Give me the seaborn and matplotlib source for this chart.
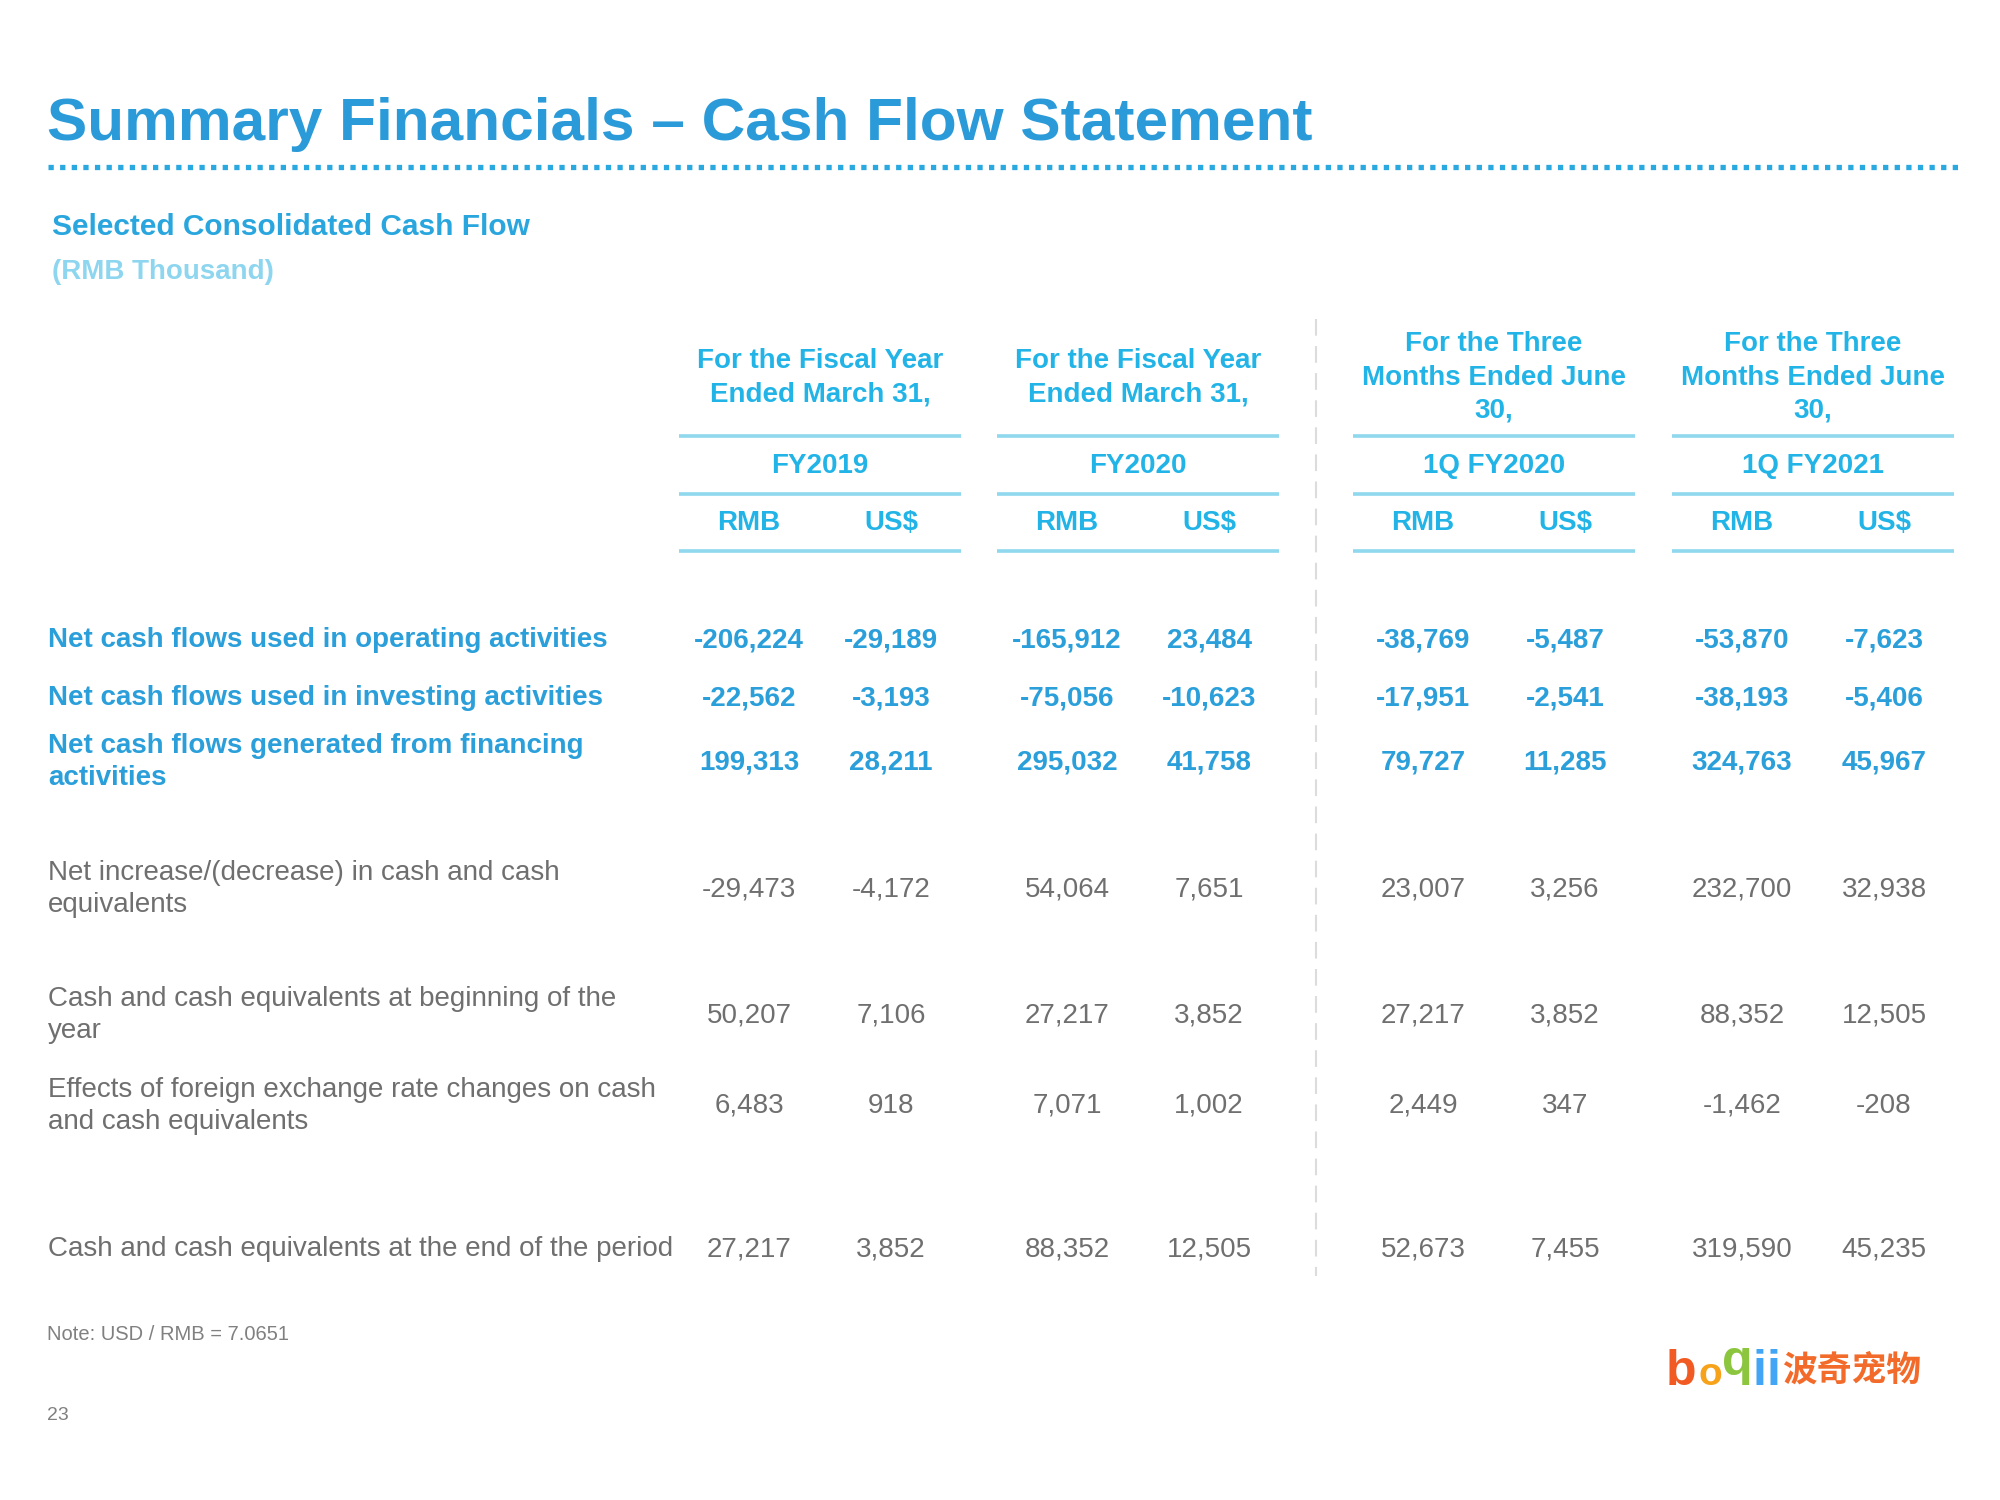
import matplotlib
matplotlib.use("Agg")
import matplotlib.pyplot as plt
import seaborn as sns

# ---------------- data ----------------
title = "Summary Financials \u2013 Cash Flow Statement"
subtitle = "Selected Consolidated Cash Flow"
unit_note = "(RMB Thousand)"
period_captions = ["For the Fiscal Year\nEnded March 31,",
                   "For the Fiscal Year\nEnded March 31,",
                   "For the Three\nMonths Ended June\n30,",
                   "For the Three\nMonths Ended June\n30,"]
periods = ["FY2019", "FY2020", "1Q FY2020", "1Q FY2021"]
currencies = ["RMB", "US$"]

row_labels = ["Net cash flows used in operating activities",
              "Net cash flows used in investing activities",
              "Net cash flows generated from financing\nactivities",
              "Net increase/(decrease) in cash and cash\nequivalents",
              "Cash and cash equivalents at beginning of the\nyear",
              "Effects of foreign exchange rate changes on cash\nand cash equivalents",
              "Cash and cash equivalents at the end of the period"]
highlight_rows = [True, True, True, False, False, False, False]

operating = [-206224, -29189, -165912, 23484, -38769, -5487, -53870, -7623]
investing = [-22562, -3193, -75056, -10623, -17951, -2541, -38193, -5406]
financing = [199313, 28211, 295032, 41758, 79727, 11285, 324763, 45967]
net_increase = [-29473, -4172, 54064, 7651, 23007, 3256, 232700, 32938]
beginning = [50207, 7106, 27217, 3852, 27217, 3852, 88352, 12505]
fx_effects = [6483, 918, 7071, 1002, 2449, 347, -1462, -208]
end_period = [27217, 3852, 88352, 12505, 52673, 7455, 319590, 45235]
table_rows = [operating, investing, financing, net_increase, beginning, fx_effects, end_period]

note_text = "Note: USD / RMB = 7.0651"
page_number = "23"
logo_letters = ["b", "o", "q", "i", "i"]
logo_name = "波奇宠物"

# ---------------- layout / style ----------------
sns.set_theme(style="white")
plt.rcParams['font.family'] = ['Liberation Sans', 'Noto Sans CJK SC', 'DejaVu Sans']

TITLE_BLUE = "#2B9AD8"
ROW_BLUE = "#2A9FDA"
HEAD_CYAN = "#22B4E6"
LIGHT_CYAN = "#8ED6EF"
RULE_CYAN = "#8FD8EE"
GRAY = "#6F6F6F"

fig = plt.figure(figsize=(20, 15), dpi=100)
ax = fig.add_axes([0, 0, 1, 1])
ax.set_xlim(0, 2000)
ax.set_ylim(1500, 0)
ax.axis("off")

# title and dotted rule
ax.text(47, 125, title, fontsize=43.5, fontweight="bold", color=TITLE_BLUE, va="center", ha="left")
ax.plot([48, 1958], [167, 167], linestyle=(0, (1, 1.2)), color="#2AA8E0", linewidth=3.8)

ax.text(52, 227, subtitle, fontsize=21.5, fontweight="bold", color="#2AA6DE", va="center")
ax.text(52, 272, unit_note, fontsize=20, fontweight="bold", color=LIGHT_CYAN, va="center")

# column geometry
group_left = [679, 997, 1353, 1672]
group_width = 282
col_offsets = [70, 212]
caption_y = [[361, 394], [361, 394], [344, 378, 411], [344, 378, 411]]

for g in range(4):
    x0 = group_left[g]
    xc = x0 + group_width / 2
    lines = period_captions[g].split("\n")
    for ln, yy in zip(lines, caption_y[g]):
        ax.text(xc, yy, ln, fontsize=20, fontweight="bold", color=HEAD_CYAN, ha="center", va="center")
    ax.text(xc, 466, periods[g], fontsize=20, fontweight="bold", color=HEAD_CYAN, ha="center", va="center")
    for ci, cur in enumerate(currencies):
        ax.text(x0 + col_offsets[ci], 523, cur, fontsize=20, fontweight="bold", color=HEAD_CYAN,
                ha="center", va="center")
    for yy in [436, 494, 551]:
        ax.plot([x0, x0 + group_width], [yy, yy], color=RULE_CYAN, linewidth=2.6, solid_capstyle="butt")

# vertical dashed separator
ax.plot([1316, 1316], [319, 1276], color="#DCDCDC", linewidth=1.5, linestyle=(0, (8, 5)))

# body rows
row_y = [640, 698, 762, 889, 1015, 1106, 1249]
for r, (label, vals) in enumerate(zip(row_labels, table_rows)):
    hl = highlight_rows[r]
    color = ROW_BLUE if hl else GRAY
    weight = "bold" if hl else "normal"
    ax.text(48, row_y[r], label, fontsize=20, fontweight=weight, color=color,
            ha="left", va="center", linespacing=1.33)
    for g in range(4):
        for ci in range(2):
            v = vals[g * 2 + ci]
            ax.text(group_left[g] + col_offsets[ci], row_y[r], f"{v:,}", fontsize=20,
                    fontweight=weight, color=color, ha="center", va="center")

# footer
ax.text(47, 1334, note_text, fontsize=14.5, color="#808080", va="center")
ax.text(47, 1416, page_number, fontsize=14, color="#808080", va="center")

# logo
logo_colors = ["#F15A22", "#F7A21B", "#8CC63F", "#42A5F5", "#42A5F5"]
logo_sizes = [36, 28, 36, 36, 36]
logo_x = [1666, 1698, 1722, 1753, 1766]
logo_base = [1385, 1385, 1375, 1385, 1385]
for ch, c, s, xx, yb in zip(logo_letters, logo_colors, logo_sizes, logo_x, logo_base):
    ax.text(xx, yb, ch, fontsize=s, fontweight="bold", color=c, va="baseline", ha="left")
ax.text(1782, 1370, logo_name, fontsize=25, color="#F26B2A", va="center", ha="left",
        family=["Noto Sans CJK SC", "DejaVu Sans"], fontweight="bold")

fig.savefig("out.png", dpi=100, facecolor="white")
